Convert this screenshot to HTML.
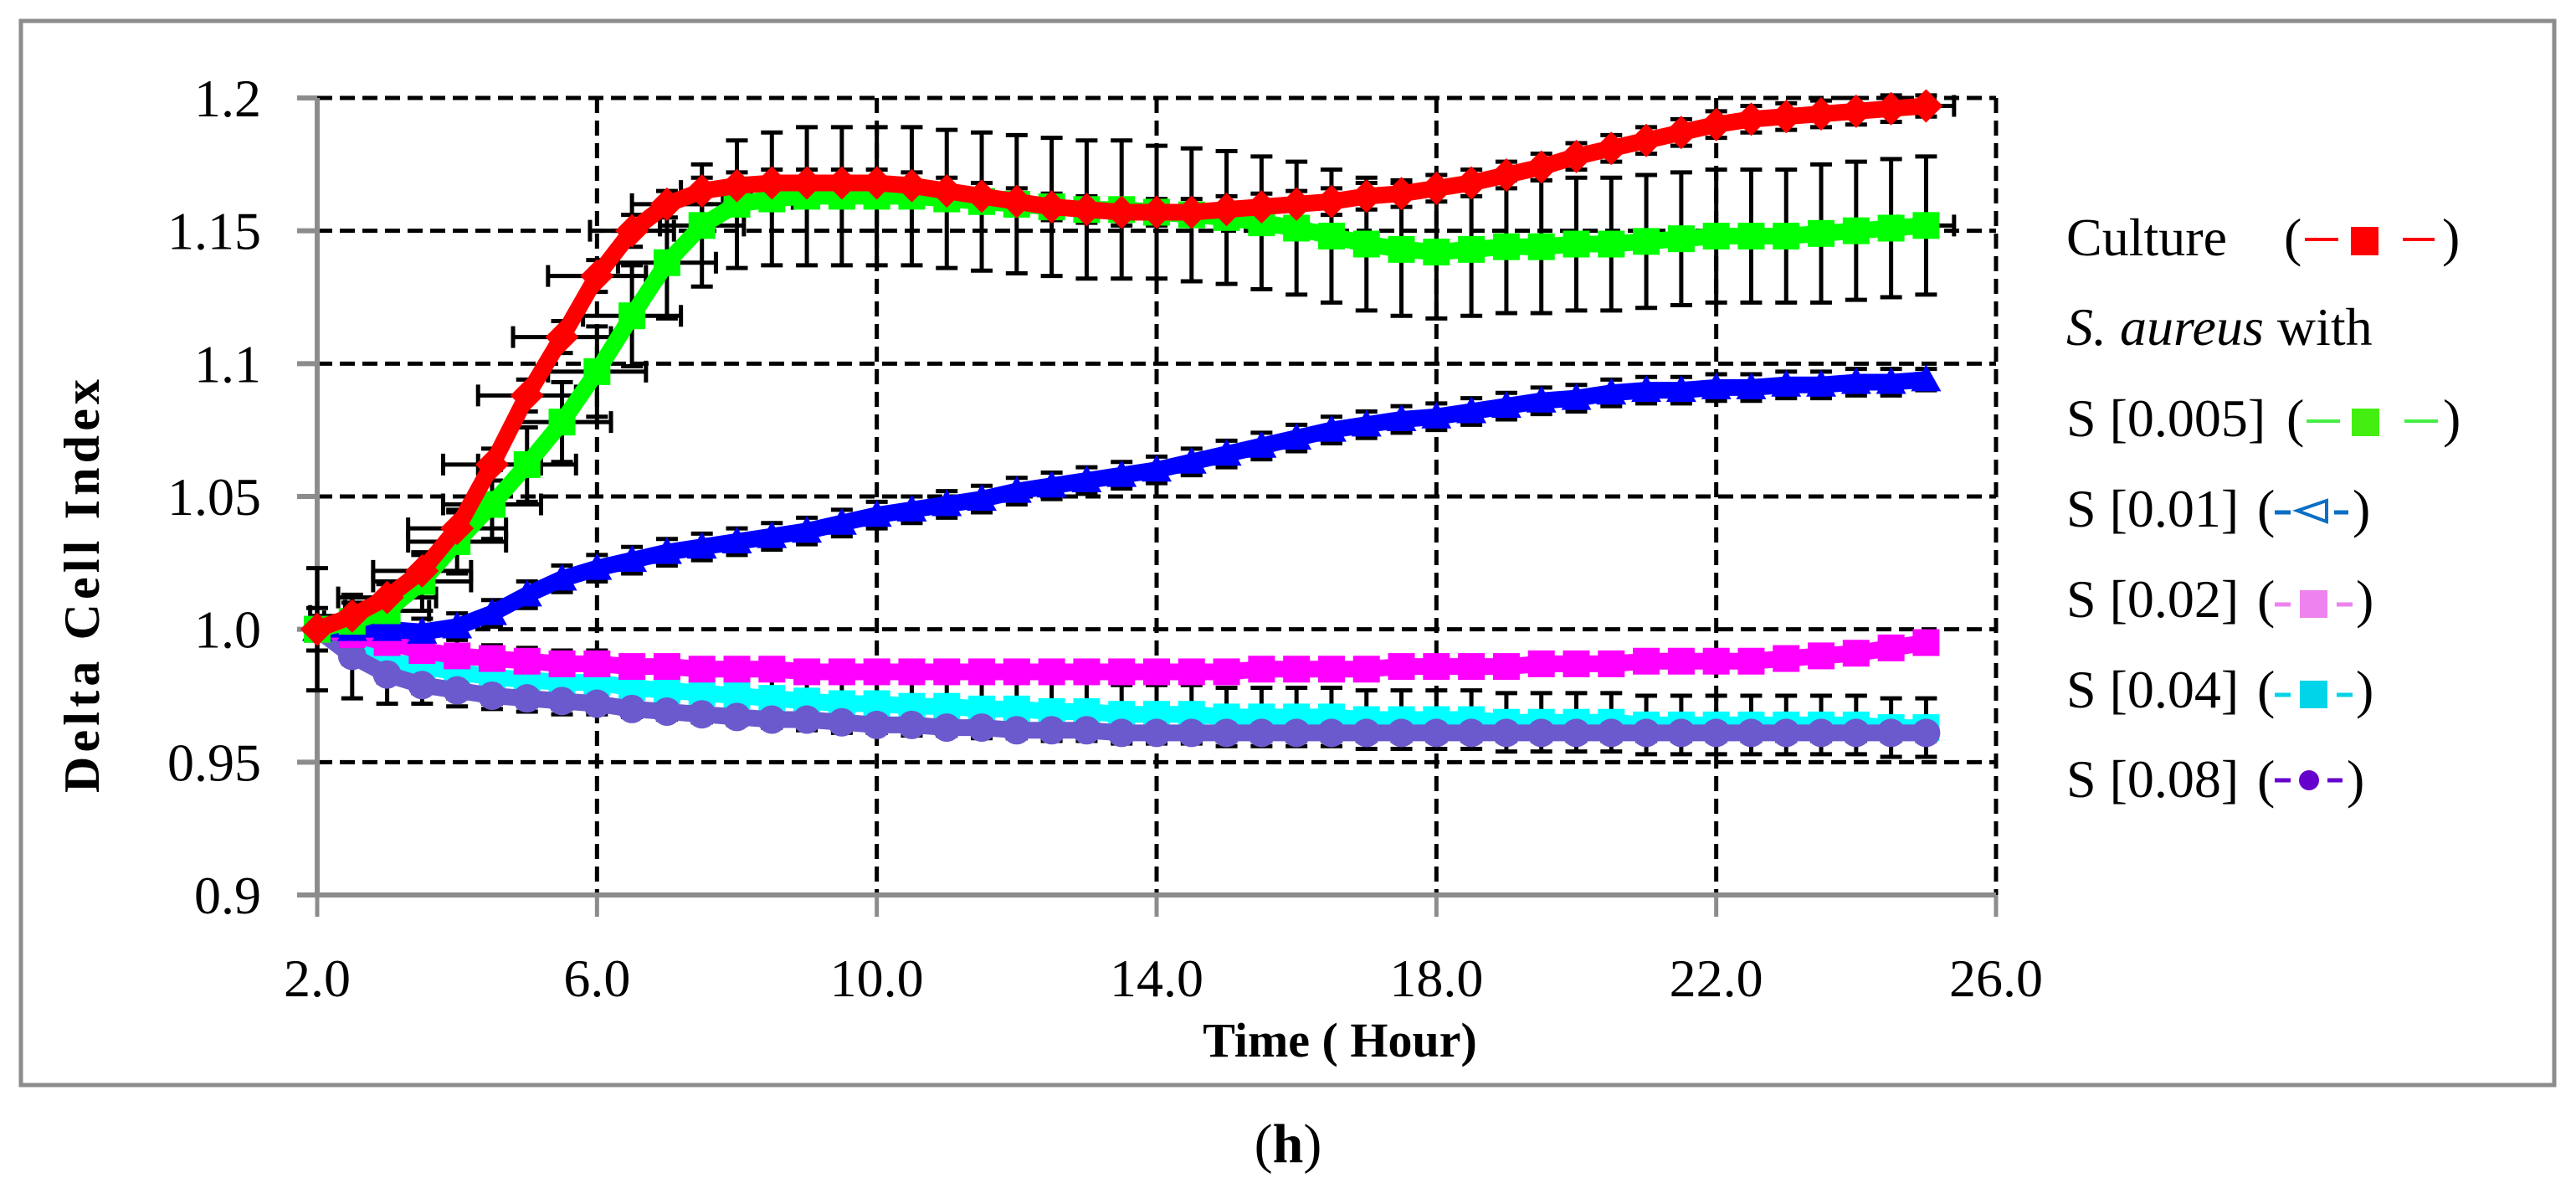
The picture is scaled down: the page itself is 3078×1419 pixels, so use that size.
<!DOCTYPE html>
<html><head><meta charset="utf-8"><style>
html,body{margin:0;padding:0;background:#fff;}
svg{display:block;font-family:"Liberation Serif",serif;}
</style></head><body>
<svg id="chart" width="3078" height="1419" viewBox="0 0 3078 1419" xmlns="http://www.w3.org/2000/svg">
<rect x="25" y="25" width="3027" height="1271" fill="#fff" stroke="#8c8c8c" stroke-width="5"/>
<g id="grid"></g>
<g id="axes"></g>
<g id="errs"></g>
<g id="series"></g>
<text x="0" y="0" transform="translate(118,700) rotate(-90)" text-anchor="middle" font-weight="bold" font-size="60" textLength="494" lengthAdjust="spacing">Delta Cell Index</text>
<text x="1601" y="1262" text-anchor="middle" font-weight="bold" font-size="58">Time ( Hour)</text>
<text x="1539" y="1388" text-anchor="middle" font-size="66">(<tspan font-weight="bold">h</tspan>)</text>
<g id="legend" font-size="64">
 <g>
  <text x="2469" y="305">Culture</text><text x="2729" y="305">(</text>
  <line x1="2754" y1="286" x2="2794" y2="286" stroke="#f00" stroke-width="4"/>
  <rect x="2809" y="271" width="33" height="34" fill="#f00"/>
  <line x1="2871" y1="286" x2="2909" y2="286" stroke="#f00" stroke-width="4"/>
  <text x="2918" y="305">)</text>
 </g>
 <text x="2469" y="412"><tspan font-style="italic">S. aureus</tspan> with</text>
 <g>
  <text x="2469" y="521">S [0.005]</text><text x="2732" y="521">(</text>
  <line x1="2756" y1="503" x2="2796" y2="503" stroke="#4e4" stroke-width="4"/>
  <rect x="2810" y="488" width="33" height="33" fill="#4e1"/>
  <line x1="2873" y1="503" x2="2913" y2="503" stroke="#4e4" stroke-width="4"/>
  <text x="2919" y="521">)</text>
 </g>
 <g>
  <text x="2469" y="629">S [0.01]</text><text x="2697" y="629">(</text>
  <line x1="2718" y1="612" x2="2737" y2="612" stroke="#0a6ec4" stroke-width="5"/>
  <polygon points="2745,610 2780,598 2780,623" fill="none" stroke="#0a6ec4" stroke-width="4"/>
  <line x1="2789" y1="612" x2="2806" y2="612" stroke="#0a6ec4" stroke-width="5"/>
  <text x="2811" y="629">)</text>
 </g>
 <g>
  <text x="2469" y="737">S [0.02]</text><text x="2697" y="737">(</text>
  <line x1="2718" y1="722" x2="2737" y2="722" stroke="#ee82ee" stroke-width="5"/>
  <rect x="2748" y="705" width="33" height="33" fill="#ee82ee"/>
  <line x1="2792" y1="722" x2="2811" y2="722" stroke="#ee82ee" stroke-width="5"/>
  <text x="2815" y="737">)</text>
 </g>
 <g>
  <text x="2469" y="845">S [0.04]</text><text x="2697" y="845">(</text>
  <line x1="2718" y1="830" x2="2737" y2="830" stroke="#00d4e8" stroke-width="5"/>
  <rect x="2748" y="813" width="33" height="33" fill="#00d4e8"/>
  <line x1="2792" y1="830" x2="2811" y2="830" stroke="#00d4e8" stroke-width="5"/>
  <text x="2815" y="845">)</text>
 </g>
 <g>
  <text x="2469" y="952">S [0.08]</text><text x="2697" y="952">(</text>
  <line x1="2718" y1="932" x2="2737" y2="932" stroke="#6600cc" stroke-width="5"/>
  <circle cx="2759" cy="932" r="12" fill="#6600cc"/>
  <line x1="2781" y1="932" x2="2799" y2="932" stroke="#6600cc" stroke-width="5"/>
  <text x="2804" y="952">)</text>
 </g>
</g>
</svg>
<script>
const times=[2,2.5,3,3.5,4,4.5,5,5.5,6,6.5,7,7.5,8,8.5,9,9.5,10,10.5,11,11.5,12,12.5,13,13.5,14,14.5,15,15.5,16,16.5,17,17.5,18,18.5,19,19.5,20,20.5,21,21.5,22,22.5,23,23.5,24,24.5,25];
const cultureVals=[1.000,1.005,1.012,1.022,1.038,1.062,1.088,1.110,1.133,1.150,1.160,1.165,1.167,1.168,1.168,1.168,1.168,1.167,1.165,1.163,1.161,1.159,1.158,1.157,1.157,1.157,1.158,1.159,1.160,1.161,1.163,1.164,1.166,1.168,1.171,1.174,1.178,1.181,1.184,1.187,1.190,1.192,1.193,1.194,1.195,1.196,1.197];
const s0005Vals=[1.000,1.003,1.007,1.018,1.033,1.047,1.062,1.078,1.097,1.118,1.138,1.152,1.160,1.162,1.163,1.163,1.163,1.163,1.162,1.161,1.160,1.159,1.158,1.158,1.157,1.156,1.155,1.153,1.151,1.148,1.145,1.143,1.142,1.143,1.144,1.144,1.145,1.145,1.146,1.147,1.148,1.148,1.148,1.149,1.150,1.151,1.152];
const s001Vals=[1.000,1.000,1.000,0.999,1.001,1.006,1.013,1.019,1.023,1.026,1.029,1.031,1.033,1.035,1.037,1.040,1.043,1.045,1.047,1.049,1.052,1.054,1.056,1.058,1.060,1.063,1.066,1.069,1.072,1.075,1.077,1.079,1.080,1.082,1.084,1.086,1.087,1.089,1.090,1.090,1.091,1.091,1.092,1.092,1.093,1.093,1.094];
const s002Vals=[1.000,0.998,0.995,0.992,0.990,0.989,0.988,0.987,0.987,0.986,0.986,0.985,0.985,0.985,0.984,0.984,0.984,0.984,0.984,0.984,0.984,0.984,0.984,0.984,0.984,0.984,0.984,0.985,0.985,0.985,0.985,0.986,0.986,0.986,0.986,0.987,0.987,0.987,0.988,0.988,0.988,0.988,0.989,0.990,0.991,0.993,0.995];
const s004Vals=[1.000,0.993,0.988,0.986,0.984,0.982,0.981,0.980,0.980,0.978,0.977,0.976,0.975,0.974,0.973,0.972,0.972,0.971,0.971,0.970,0.970,0.969,0.969,0.968,0.968,0.968,0.967,0.967,0.967,0.967,0.966,0.966,0.966,0.966,0.965,0.965,0.965,0.965,0.964,0.964,0.964,0.964,0.964,0.964,0.964,0.963,0.963];
const s008Vals=[1.000,0.990,0.983,0.979,0.977,0.975,0.974,0.973,0.972,0.970,0.969,0.968,0.967,0.966,0.966,0.965,0.964,0.964,0.963,0.963,0.962,0.962,0.962,0.961,0.961,0.961,0.961,0.961,0.961,0.961,0.961,0.961,0.961,0.961,0.961,0.961,0.961,0.961,0.961,0.961,0.961,0.961,0.961,0.961,0.961,0.961,0.961];
const cultureYErr=[0.004,0.005,0.006,0.006,0.006,0.006,0.006,0.006,0.006,0.006,0.005,0.005,0.005,0.005,0.005,0.005,0.005,0.005,0.005,0.005,0.005,0.005,0.005,0.005,0.005,0.005,0.005,0.005,0.005,0.005,0.005,0.005,0.005,0.005,0.005,0.005,0.005,0.005,0.005,0.005,0.005,0.005,0.005,0.005,0.005,0.005,0.004];
const cultureXErr=[0,0.6,0.7,0.7,0.7,0.7,0.7,0.7,0.7,0.6,0.5,0.3,0,0,0,0,0,0,0,0,0,0,0,0,0,0,0,0,0,0,0,0,0,0,0,0,0,0,0,0,0,0,0,0,0,0,0.4];
const s0005YErr=[0.008,0.010,0.010,0.011,0.012,0.013,0.014,0.015,0.017,0.019,0.021,0.023,0.024,0.025,0.026,0.026,0.026,0.026,0.026,0.026,0.026,0.026,0.026,0.026,0.025,0.025,0.025,0.025,0.025,0.025,0.025,0.025,0.025,0.025,0.025,0.025,0.025,0.025,0.025,0.025,0.025,0.025,0.025,0.026,0.026,0.026,0.026];
const s0005XErr=[0,0.4,0.6,0.7,0.7,0.7,0.7,0.7,0.7,0.7,0.7,0.6,0.5,0.3,0,0,0,0,0,0,0,0,0,0,0,0,0,0,0,0,0,0,0,0,0,0,0,0,0,0,0,0,0,0,0,0,0.4];
const s001YErr=[0.004,0.005,0.005,0.005,0.005,0.005,0.005,0.005,0.005,0.005,0.005,0.005,0.005,0.005,0.005,0.005,0.005,0.005,0.005,0.005,0.005,0.005,0.005,0.005,0.005,0.005,0.005,0.005,0.005,0.005,0.005,0.005,0.005,0.005,0.005,0.005,0.005,0.005,0.005,0.005,0.005,0.005,0.005,0.005,0.005,0.005,0.004];
const s002YErr=[0.003,0.003,0.003,0.003,0.003,0.003,0.003,0.003,0.003,0.003,0.003,0.003,0.003,0.003,0.003,0.003,0.003,0.003,0.003,0.003,0.003,0.003,0.003,0.003,0.003,0.003,0.003,0.003,0.003,0.003,0.003,0.003,0.003,0.003,0.003,0.003,0.003,0.003,0.003,0.003,0.003,0.003,0.003,0.003,0.003,0.003,0.003];
const s004YErr=[0.023,0.019,0.016,0.014,0.013,0.012,0.012,0.012,0.012,0.011,0.011,0.011,0.011,0.011,0.011,0.011,0.011,0.011,0.011,0.011,0.011,0.011,0.011,0.011,0.011,0.011,0.011,0.011,0.011,0.011,0.011,0.011,0.011,0.011,0.011,0.011,0.011,0.011,0.011,0.011,0.011,0.011,0.011,0.011,0.011,0.011,0.011];
const s008YErr=[0.003,0.003,0.003,0.003,0.003,0.003,0.003,0.003,0.003,0.003,0.003,0.003,0.003,0.003,0.003,0.003,0.003,0.003,0.003,0.003,0.003,0.003,0.003,0.003,0.003,0.003,0.003,0.003,0.003,0.003,0.003,0.003,0.003,0.003,0.003,0.003,0.003,0.003,0.003,0.003,0.003,0.003,0.003,0.003,0.003,0.003,0.003];
const xTicks=[2,6,10,14,18,22,26];
const xTickLabels=["2.0","6.0","10.0","14.0","18.0","22.0","26.0"];
const yTicks=[0.9,0.95,1.0,1.05,1.1,1.15,1.2];
const yTickLabels=["0.9","0.95","1.0","1.05","1.1","1.15","1.2"];

const NS="http://www.w3.org/2000/svg";
const X0=379,X1=2385,Y0=1069,Y1=117,XMIN=2,XMAX=26,YMIN=0.9,YMAX=1.2;
function xs(v){return X0+(v-XMIN)/(XMAX-XMIN)*(X1-X0);}
function ys(v){return Y0-(v-YMIN)/(YMAX-YMIN)*(Y0-Y1);}
function mk(tag,attrs,parent){const e=document.createElementNS(NS,tag);for(const k in attrs)e.setAttribute(k,attrs[k]);parent.appendChild(e);return e;}
const grid=document.getElementById('grid'),axes=document.getElementById('axes'),errs=document.getElementById('errs'),ser=document.getElementById('series');

yTicks.forEach((v,i)=>{
  if(i>0){const g=mk('line',{x1:X0,x2:X1,y1:ys(v),y2:ys(v),stroke:'#000','stroke-width':5,'stroke-dasharray':'18 9'},grid);
  
  }
  const t=mk('line',{x1:X0-24,x2:X0,y1:ys(v),y2:ys(v),stroke:'#8c8c8c','stroke-width':6},axes);
  
  
  const l=mk('text',{x:312,y:ys(v)+22,'text-anchor':'end','font-size':64},axes);
  
  
  l.textContent=yTickLabels[i];
});
xTicks.forEach((v,i)=>{
  if(i>0){const g=mk('line',{x1:xs(v),x2:xs(v),y1:Y1,y2:Y0,stroke:'#000','stroke-width':5,'stroke-dasharray':'18 9'},grid);
  
  }
  const t=mk('line',{x1:xs(v),x2:xs(v),y1:Y0,y2:Y0+26,stroke:'#8c8c8c','stroke-width':5},axes);
  
  
  const l=mk('text',{x:xs(v),y:1190,'text-anchor':'middle','font-size':64},axes);
  
  
  l.textContent=xTickLabels[i];
});
const ya=mk('line',{x1:X0,x2:X0,y1:Y1,y2:Y0+3,stroke:'#8c8c8c','stroke-width':6},axes);


const xa=mk('line',{x1:X0-24,x2:X1,y1:Y0,y2:Y0,stroke:'#8c8c8c','stroke-width':6},axes);



const seriesList=[
 {name:'s004',vals:s004Vals,ye:s004YErr,xe:null,color:'#00ffff',shape:'square'},
 {name:'s008',vals:s008Vals,ye:s008YErr,xe:null,color:'#6a5acd',shape:'circle'},
 {name:'s002',vals:s002Vals,ye:s002YErr,xe:null,color:'#ff00ff',shape:'square'},
 {name:'s001',vals:s001Vals,ye:s001YErr,xe:null,color:'#0000ff',shape:'triangle'},
 {name:'s0005',vals:s0005Vals,ye:s0005YErr,xe:s0005XErr,color:'#00ff00',shape:'square'},
 {name:'culture',vals:cultureVals,ye:cultureYErr,xe:cultureXErr,color:'#ff0000',shape:'diamond'}
];
const CAP=13;
seriesList.forEach(s=>{
  const g=mk('g',{},errs);
  
  
  times.forEach((t,i)=>{
    const x=xs(t),y=s.vals[i];
    const yt=ys(y+s.ye[i]),yb=ys(y-s.ye[i]);
    mk('path',{d:`M${x},${yt}V${yb}M${x-CAP},${yt}H${x+CAP}M${x-CAP},${yb}H${x+CAP}`,stroke:'#000','stroke-width':5,fill:'none'},g);
    if(s.xe&&s.xe[i]>0){
      const xl=xs(t-s.xe[i]),xr=xs(t+s.xe[i]),yy=ys(y);
      mk('path',{d:`M${xl},${yy}H${xr}M${xl},${yy-CAP}V${yy+CAP}M${xr},${yy-CAP}V${yy+CAP}`,stroke:'#000','stroke-width':5,fill:'none'},g);
    }
  });
});
seriesList.forEach(s=>{
  const g=mk('g',{},ser);
  
  
  const pts=times.map((t,i)=>xs(t)+','+ys(s.vals[i])).join(' ');
  mk('polyline',{points:pts,fill:'none',stroke:s.color,'stroke-width':20,'stroke-linejoin':'round'},g);
  times.forEach((t,i)=>{
    const x=xs(t),y=ys(s.vals[i]);let m;
    if(s.shape==='square')m=mk('rect',{x:x-16,y:y-16,width:32,height:32,fill:s.color},g);
    else if(s.shape==='circle')m=mk('circle',{cx:x,cy:y,r:17,fill:s.color},g);
    else if(s.shape==='triangle')m=mk('polygon',{points:`${x},${y-18} ${x+18},${y+14} ${x-18},${y+14}`,fill:s.color},g);
    else m=mk('polygon',{points:`${x},${y-20} ${x+20},${y} ${x},${y+20} ${x-20},${y}`,fill:s.color},g);
    
    
  });
});
</script>
</body></html>
